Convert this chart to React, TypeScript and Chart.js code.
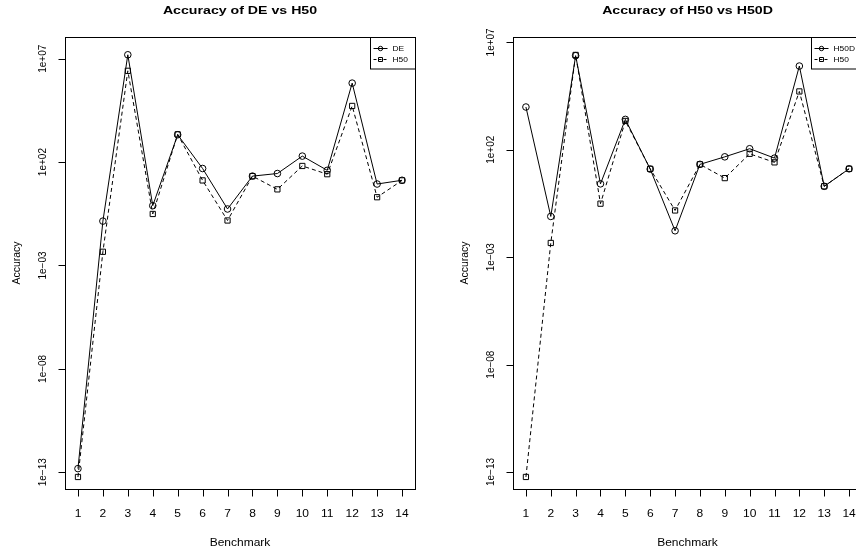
import React, { useEffect, useRef } from "react";
import { Chart, registerables } from "chart.js";

Chart.register(...registerables);

// ---- data ----
const benchmarks = [1, 2, 3, 4, 5, 6, 7, 8, 9, 10, 11, 12, 13, 14];
const xTickLabels = ["1", "2", "3", "4", "5", "6", "7", "8", "9", "10", "11", "12", "13", "14"];
const deAccuracy = [1.5e-13, 0.14, 1.55e7, 0.78, 2100, 49, 0.54, 21, 28, 195, 40, 6.6e5, 8.7, 13.2];
const h50Accuracy = [5.9e-14, 0.0046, 2.6e6, 0.31, 2200, 13, 0.15, 21, 4.8, 65, 26, 5.2e4, 2.0, 13];
const h50dAccuracy = [9800, 0.079, 2.4e6, 2.6, 2600, 12.6, 0.017, 21, 47, 112, 41, 7.9e5, 2.0, 13];
const yTickValues = [1e7, 1e2, 1e-3, 1e-8, 1e-13];
const yTickLabels = ["1e+07", "1e+02", "1e\u221203", "1e\u221208", "1e\u221213"];

const FONT = "'Liberation Sans', Arial, Helvetica, sans-serif";
const SX = 1.2; // horizontal stretch of horizontal text in the reference

function drawText(
  ctx: CanvasRenderingContext2D,
  text: string,
  x: number,
  y: number,
  font: string,
  align: CanvasTextAlign,
  baseline: CanvasTextBaseline,
  rotate = 0,
  sx = SX
) {
  ctx.save();
  ctx.translate(x, y);
  ctx.scale(sx, 1);
  if (rotate) ctx.rotate(rotate);
  ctx.font = font;
  ctx.textAlign = align;
  ctx.textBaseline = baseline;
  ctx.fillText(text, 0, 0);
  ctx.restore();
}

const rPlotPlugin = {
  id: "rplot",
  afterDraw(chart: any, _args: any, opts: any) {
    const { ctx, chartArea: a, scales } = chart;
    const xs = scales.x;
    const ys = scales.y;
    ctx.save();
    ctx.strokeStyle = "#000";
    ctx.fillStyle = "#000";
    ctx.lineWidth = 1;
    ctx.setLineDash([]);
    const L = Math.round(a.left) + 0.5;
    const T = Math.round(a.top) + 0.5;
    const R = Math.round(a.right) + 0.5;
    const B = Math.round(a.bottom) + 0.5;
    ctx.strokeRect(L, T, R - L, B - T);

    // x axis
    ctx.beginPath();
    const x0 = Math.round(xs.getPixelForValue(benchmarks[0])) + 0.5;
    const x1 = Math.round(xs.getPixelForValue(benchmarks[benchmarks.length - 1])) + 0.5;
    ctx.moveTo(x0, B);
    ctx.lineTo(x1, B);
    benchmarks.forEach((v) => {
      const px = Math.round(xs.getPixelForValue(v)) + 0.5;
      ctx.moveTo(px, B);
      ctx.lineTo(px, B + 7);
    });
    ctx.stroke();
    benchmarks.forEach((v, i) => {
      const px = xs.getPixelForValue(v);
      drawText(ctx, xTickLabels[i], px, B + 27, `10px ${FONT}`, "center", "alphabetic");
    });

    // y axis
    ctx.beginPath();
    const yTop = Math.round(ys.getPixelForValue(yTickValues[0])) + 0.5;
    const yBot = Math.round(ys.getPixelForValue(yTickValues[yTickValues.length - 1])) + 0.5;
    ctx.moveTo(L, yTop);
    ctx.lineTo(L, yBot);
    yTickValues.forEach((v) => {
      const py = Math.round(ys.getPixelForValue(v)) + 0.5;
      ctx.moveTo(L, py);
      ctx.lineTo(L - 7, py);
    });
    ctx.stroke();
    yTickValues.forEach((v, i) => {
      const py = ys.getPixelForValue(v);
      drawText(ctx, yTickLabels[i], a.left - 19, py, `10px ${FONT}`, "center", "alphabetic", -Math.PI / 2, 1);
    });

    // axis titles
    drawText(ctx, "Benchmark", (a.left + a.right) / 2, 546, `10px ${FONT}`, "center", "alphabetic");
    drawText(ctx, "Accuracy", a.left - 45, (a.top + a.bottom) / 2, `10.5px ${FONT}`, "center", "alphabetic", -Math.PI / 2, 1);

    // main title
    drawText(ctx, opts.title, (a.left + a.right) / 2, 13.5, `bold 11.8px ${FONT}`, "center", "alphabetic");

    // legend
    const items = opts.legend as { label: string; dash: number[]; style: string }[];
    ctx.font = `7px ${FONT}`;
    const tw = Math.max(...items.map((it) => ctx.measureText(it.label).width)) * SX;
    const bw = Math.round(tw + 30);
    const bl = Math.round(a.right) - bw + 0.5;
    const bt = T;
    const bh = 31.5;
    ctx.fillStyle = "#fff";
    ctx.fillRect(bl, bt, bw, bh);
    ctx.strokeStyle = "#000";
    ctx.strokeRect(bl, bt, bw, bh);
    items.forEach((it, i) => {
      const cy = Math.round(a.top + 10.5 + i * 11.5) + 0.5;
      ctx.beginPath();
      ctx.setLineDash(it.dash);
      ctx.moveTo(bl + 3, cy);
      ctx.lineTo(bl + 17, cy);
      ctx.stroke();
      ctx.setLineDash([]);
      ctx.beginPath();
      const cx = bl + 10;
      if (it.style === "circle") {
        ctx.arc(cx, cy, 2.2, 0, Math.PI * 2);
      } else {
        ctx.rect(cx - 2, cy - 2, 4, 4);
      }
      ctx.stroke();
      ctx.fillStyle = "#000";
      drawText(ctx, it.label, bl + 22, cy + 2.5, `7px ${FONT}`, "left", "alphabetic");
    });
    ctx.restore();
  },
};

function makeDataset(label: string, values: number[], style: string, dash: number[]) {
  return {
    label,
    data: benchmarks.map((b, i) => ({ x: b, y: values[i] })),
    borderColor: "#000",
    backgroundColor: "rgba(0,0,0,0)",
    borderWidth: 1,
    borderDash: dash,
    pointStyle: style,
    pointRadius: style === "circle" ? 3.3 : 3.7,
    pointBorderWidth: 1,
    pointBorderColor: "#000",
    pointBackgroundColor: "rgba(0,0,0,0)",
    tension: 0,
    fill: false,
  };
}

function Panel(props: {
  width: number;
  left: number;
  padding: { left: number; right: number; top: number; bottom: number };
  yMin: number;
  yMax: number;
  title: string;
  datasets: any[];
  legend: { label: string; dash: number[]; style: string }[];
}) {
  const ref = useRef<HTMLCanvasElement | null>(null);
  useEffect(() => {
    if (!ref.current) return;
    const chart = new Chart(ref.current, {
      type: "line",
      data: { datasets: props.datasets },
      options: {
        animation: false,
        responsive: false,
        devicePixelRatio: 1,
        layout: { padding: props.padding },
        scales: {
          x: { type: "linear", min: 0.48, max: 14.52, display: false },
          y: { type: "logarithmic", min: props.yMin, max: props.yMax, display: false },
        },
        plugins: {
          legend: { display: false },
          tooltip: { enabled: false },
          rplot: { title: props.title, legend: props.legend },
        } as any,
      },
      plugins: [rPlotPlugin],
    } as any);
    return () => chart.destroy();
  }, []);
  return (
    <canvas
      ref={ref}
      width={props.width}
      height={556}
      style={{ position: "absolute", left: props.left, top: 0, width: props.width, height: 556 }}
    />
  );
}

export default function App() {
  return (
    <div
      style={{
        position: "absolute",
        left: 0,
        top: 0,
        width: 856,
        height: 556,
        overflow: "hidden",
        background: "#fff",
      }}
    >
      <Panel
        width={428}
        left={0}
        padding={{ left: 65, right: 13, top: 37, bottom: 67 }}
        yMin={Math.pow(10, -13.81)}
        yMax={Math.pow(10, 8.05)}
        title="Accuracy of DE vs H50"
        datasets={[
          makeDataset("DE", deAccuracy, "circle", []),
          makeDataset("H50", h50Accuracy, "rect", [4, 3]),
        ]}
        legend={[
          { label: "DE", dash: [], style: "circle" },
          { label: "H50", dash: [3, 2], style: "rect" },
        ]}
      />
      <Panel
        width={440}
        left={428}
        padding={{ left: 85, right: 6, top: 37, bottom: 67 }}
        yMin={Math.pow(10, -13.79)}
        yMax={Math.pow(10, 7.25)}
        title="Accuracy of H50 vs H50D"
        datasets={[
          makeDataset("H50D", h50dAccuracy, "circle", []),
          makeDataset("H50", h50Accuracy, "rect", [4, 3]),
        ]}
        legend={[
          { label: "H50D", dash: [], style: "circle" },
          { label: "H50", dash: [3, 2], style: "rect" },
        ]}
      />
    </div>
  );
}
